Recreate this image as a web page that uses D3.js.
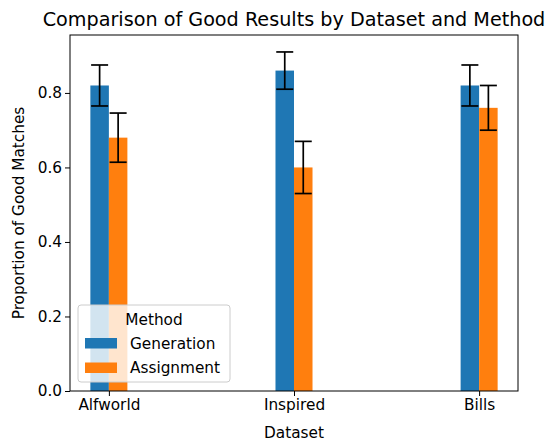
<!DOCTYPE html>
<html>
<head>
<meta charset="utf-8">
<script src="https://cdn.jsdelivr.net/npm/d3@7"></script>
<style>
  body { margin: 0; background: #fff; }
  text { font-family: "DejaVu Sans", sans-serif; }
</style>
</head>
<body>
<div id="chart"></div>
<script>
// Data
var datasets = ["Alfworld", "Inspired", "Bills"];
var methods = ["Generation", "Assignment"];
var generationVals = [0.82, 0.86, 0.82];
var generationErr = [0.055, 0.05, 0.055];
var assignmentVals = [0.68, 0.60, 0.76];
var assignmentErr = [0.066, 0.07, 0.06];
var yTicks = [0.0, 0.2, 0.4, 0.6, 0.8];

var colors = ["#1f77b4", "#ff7f0e"];
var width = 551, height = 445;
var margin = {top: 35, right: 33, bottom: 54, left: 70};
var fs = 15.3;

var svg = d3.select("#chart").append("svg")
  .attr("width", width)
  .attr("height", height);

// numeric x positions like matplotlib: category i at i, bars offset by 0.1
var x = d3.scaleLinear().domain([-0.21, 2.21]).range([margin.left, width - margin.right]);
var y = d3.scaleLinear().domain([0, 0.9555]).range([height - margin.bottom, margin.top]);
var barW = 0.1;

var series = [
  {name: methods[0], vals: generationVals, err: generationErr, off: -barW, color: colors[0]},
  {name: methods[1], vals: assignmentVals, err: assignmentErr, off: 0, color: colors[1]}
];

series.forEach(function(s) {
  svg.append("g").selectAll("rect")
    .data(s.vals)
    .join("rect")
    .attr("x", (d, i) => x(i + s.off))
    .attr("width", x(barW) - x(0))
    .attr("y", d => y(d))
    .attr("height", d => y(0) - y(d))
    .attr("fill", s.color);
});

// error bars
series.forEach(function(s) {
  var g = svg.append("g").attr("stroke", "#000").attr("stroke-width", 1.7);
  s.vals.forEach(function(v, i) {
    var cx = x(i + s.off + barW / 2);
    var lo = y(v - s.err[i]), hi = y(v + s.err[i]);
    g.append("line").attr("x1", cx).attr("x2", cx).attr("y1", lo).attr("y2", hi);
    g.append("line").attr("x1", cx - 8.5).attr("x2", cx + 8.5).attr("y1", lo).attr("y2", lo);
    g.append("line").attr("x1", cx - 8.5).attr("x2", cx + 8.5).attr("y1", hi).attr("y2", hi);
  });
});

// axes
var xAxis = d3.axisBottom(x).tickValues([0, 1, 2]).tickFormat(d => datasets[d]).tickSize(5).tickPadding(3);
var yAxis = d3.axisLeft(y).tickValues(yTicks).tickFormat(d3.format(".1f")).tickSize(5).tickPadding(3);

var gx = svg.append("g").attr("transform", `translate(0,${height - margin.bottom})`).call(xAxis);
var gy = svg.append("g").attr("transform", `translate(${margin.left},0)`).call(yAxis);
[gx, gy].forEach(function(g) {
  g.select(".domain").remove();
  g.selectAll("text").attr("font-size", fs).attr("fill", "#000").attr("font-family", "DejaVu Sans");
  g.selectAll("line").attr("stroke", "#000").attr("stroke-width", 1);
});

// frame
svg.append("rect")
  .attr("x", margin.left).attr("y", margin.top)
  .attr("width", width - margin.left - margin.right)
  .attr("height", height - margin.top - margin.bottom)
  .attr("fill", "none").attr("stroke", "#000").attr("stroke-width", 1);

// title and labels
svg.append("text")
  .attr("x", (margin.left + width - margin.right) / 2).attr("y", 26)
  .attr("text-anchor", "middle").attr("font-size", 19.2)
  .text("Comparison of Good Results by Dataset and Method");

svg.append("text")
  .attr("x", (margin.left + width - margin.right) / 2).attr("y", 438)
  .attr("text-anchor", "middle").attr("font-size", fs)
  .text("Dataset");

svg.append("text")
  .attr("transform", `translate(24,${(margin.top + height - margin.bottom) / 2}) rotate(-90)`)
  .attr("text-anchor", "middle").attr("font-size", fs)
  .text("Proportion of Good Matches");

// legend
var leg = svg.append("g").attr("transform", "translate(78,305)");
leg.append("rect")
  .attr("width", 152).attr("height", 77).attr("rx", 3)
  .attr("fill", "#fff").attr("fill-opacity", 0.8)
  .attr("stroke", "#ccc").attr("stroke-width", 1);
leg.append("text")
  .attr("x", 76).attr("y", 20).attr("text-anchor", "middle").attr("font-size", fs)
  .text("Method");
methods.forEach(function(m, i) {
  leg.append("rect").attr("x", 7).attr("y", 33 + i * 24.5).attr("width", 32).attr("height", 10.5).attr("fill", colors[i]);
  leg.append("text").attr("x", 52).attr("y", 44 + i * 24).attr("font-size", fs).text(m);
});
</script>
</body>
</html>
